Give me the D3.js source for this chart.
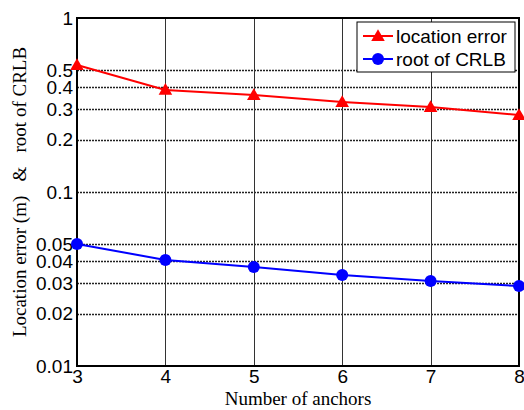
<!DOCTYPE html>
<html>
<head>
<meta charset="utf-8">
<script src="https://cdn.jsdelivr.net/npm/d3@7"></script>
<style>
  body { margin: 0; background: #fff; }
  svg { display: block; }
</style>
</head>
<body>
<div id="chart"></div>
<script>
// anchors on x axis
var anchors = [3, 4, 5, 6, 7, 8];
var locationError = [0.537, 0.386, 0.361, 0.329, 0.308, 0.277];
var rootCRLB = [0.0502, 0.0407, 0.0371, 0.0333, 0.0308, 0.0288];

var yTicks = [0.01, 0.02, 0.03, 0.04, 0.05, 0.1, 0.2, 0.3, 0.4, 0.5, 1];
var yGrid = [0.02, 0.03, 0.04, 0.05, 0.1, 0.2, 0.3, 0.4, 0.5];

var width = 524, height = 410;
var margin = {top: 18, right: 5, bottom: 44, left: 77};

var svg = d3.select("#chart").append("svg")
    .attr("width", width)
    .attr("height", height);

var x = d3.scaleLinear()
    .domain([3, 8])
    .range([margin.left, width - margin.right]);

var y = d3.scaleLog()
    .domain([0.01, 1])
    .range([height - margin.bottom, margin.top]);

// grid
svg.append("g")
    .selectAll("line")
    .data(yGrid)
    .enter().append("line")
    .attr("x1", x(3)).attr("x2", x(8))
    .attr("y1", function (d) { return Math.round(y(d)) + 0.5; })
    .attr("y2", function (d) { return Math.round(y(d)) + 0.5; })
    .attr("stroke", "#222")
    .attr("stroke-width", 1.3)
    .attr("stroke-dasharray", "2,1");

svg.append("g")
    .selectAll("line")
    .data([4, 5, 6, 7])
    .enter().append("line")
    .attr("x1", function (d) { return Math.round(x(d)) + 0.5; })
    .attr("x2", function (d) { return Math.round(x(d)) + 0.5; })
    .attr("y1", y(1)).attr("y2", y(0.01))
    .attr("stroke", "#333")
    .attr("stroke-width", 1);

// axes
var yAxis = d3.axisLeft(y)
    .tickValues(yTicks)
    .tickFormat(function (d) { return String(d); })
    .tickSize(0)
    .tickPadding(4);

var gy = svg.append("g")
    .attr("transform", "translate(" + margin.left + ",0)")
    .call(yAxis);
gy.select(".domain").remove();
gy.selectAll("text")
    .attr("font-family", "Liberation Sans, Arial, sans-serif")
    .attr("font-size", 19)
    .attr("fill", "#000");

var xAxis = d3.axisBottom(x)
    .tickValues(anchors)
    .tickFormat(d3.format("d"))
    .tickSize(0)
    .tickPadding(3);

var gx = svg.append("g")
    .attr("transform", "translate(0," + (height - margin.bottom) + ")")
    .call(xAxis);
gx.select(".domain").remove();
gx.selectAll("text")
    .attr("font-family", "Liberation Sans, Arial, sans-serif")
    .attr("font-size", 19)
    .attr("fill", "#000");

// box
svg.append("rect")
    .attr("x", x(3)).attr("y", y(1))
    .attr("width", x(8) - x(3))
    .attr("height", y(0.01) - y(1))
    .attr("fill", "none")
    .attr("stroke", "#000")
    .attr("stroke-width", 2);

// lines
var line = d3.line()
    .x(function (d) { return x(d[0]); })
    .y(function (d) { return y(d[1]); });

var tri = d3.symbol().type(d3.symbolTriangle).size(80);

var errData = d3.zip(anchors, locationError);
var crlbData = d3.zip(anchors, rootCRLB);

svg.append("path")
    .datum(errData)
    .attr("d", line)
    .attr("fill", "none")
    .attr("stroke", "#ff0000")
    .attr("stroke-width", 2);

svg.selectAll(".tri")
    .data(errData)
    .enter().append("path")
    .attr("class", "tri")
    .attr("d", tri)
    .attr("transform", function (d) { return "translate(" + x(d[0]) + "," + (y(d[1]) + 1) + ")"; })
    .attr("fill", "#ff0000");

svg.append("path")
    .datum(crlbData)
    .attr("d", line)
    .attr("fill", "none")
    .attr("stroke", "#0000ff")
    .attr("stroke-width", 2);

svg.selectAll(".dot")
    .data(crlbData)
    .enter().append("circle")
    .attr("class", "dot")
    .attr("cx", function (d) { return x(d[0]); })
    .attr("cy", function (d) { return y(d[1]); })
    .attr("r", 6)
    .attr("fill", "#0000ff");

// axis labels
svg.append("text")
    .attr("x", (x(3) + x(8)) / 2)
    .attr("y", 405)
    .attr("text-anchor", "middle")
    .attr("font-family", "Liberation Serif, Times New Roman, serif")
    .attr("font-size", 19)
    .text("Number of anchors");

svg.append("text")
    .attr("transform", "translate(26," + 192 + ") rotate(-90)")
    .attr("text-anchor", "middle")
    .attr("font-family", "Liberation Serif, Times New Roman, serif")
    .attr("font-size", 19)
    .attr("xml:space", "preserve")
    .text("Location error (m)   &   root of CRLB");

// legend
var lg = svg.append("g").attr("transform", "translate(357,22)");
lg.append("rect")
    .attr("width", 158).attr("height", 50)
    .attr("fill", "#fff")
    .attr("stroke", "#000")
    .attr("stroke-width", 1);

var legendItems = [
    {label: "location error", color: "#ff0000", shape: "tri"},
    {label: "root of CRLB", color: "#0000ff", shape: "dot"}
];

legendItems.forEach(function (item, i) {
    var cy = 14 + i * 23;
    lg.append("line")
        .attr("x1", 6).attr("x2", 36)
        .attr("y1", cy).attr("y2", cy)
        .attr("stroke", item.color)
        .attr("stroke-width", 2);
    if (item.shape === "tri") {
        lg.append("path")
            .attr("d", tri)
            .attr("transform", "translate(21," + (cy + 1) + ")")
            .attr("fill", item.color);
    } else {
        lg.append("circle")
            .attr("cx", 21).attr("cy", cy).attr("r", 6)
            .attr("fill", item.color);
    }
    lg.append("text")
        .attr("x", 39).attr("y", cy + 7)
        .attr("font-family", "Liberation Sans, Arial, sans-serif")
        .attr("font-size", 19)
        .text(item.label);
});
</script>
</body>
</html>
